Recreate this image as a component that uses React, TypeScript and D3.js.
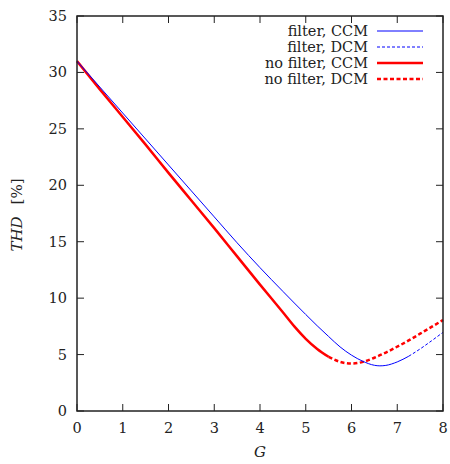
import React from 'react';
import * as d3 from 'd3';

// G values and THD [%]
const gFilter = [0, 0.5, 1, 1.5, 2, 2.5, 3, 3.5, 4, 4.5, 5, 5.25, 5.5, 5.75, 6, 6.25, 6.5, 6.62, 6.75, 7, 7.25, 7.5, 7.75, 8];
const thdFilter = [31, 28.7, 26.4, 24.1, 21.8, 19.5, 17.2, 14.9, 12.7, 10.6, 8.55, 7.55, 6.6, 5.68, 4.95, 4.4, 4.05, 4.0, 4.04, 4.35, 4.85, 5.5, 6.22, 6.97];
const filterDcmFrom = 7.25;

const gNoFilter = [0, 0.5, 1, 1.5, 2, 2.5, 3, 3.5, 4, 4.5, 4.75, 5, 5.25, 5.5, 5.75, 6, 6.25, 6.5, 6.75, 7, 7.25, 7.5, 7.75, 8];
const thdNoFilter = [31, 28.5, 26.05, 23.6, 21.1, 18.65, 16.2, 13.7, 11.2, 8.75, 7.5, 6.4, 5.5, 4.8, 4.35, 4.2, 4.35, 4.72, 5.18, 5.7, 6.25, 6.85, 7.45, 8.06];
const noFilterDcmFrom = 5.5;

const xTicks = [0, 1, 2, 3, 4, 5, 6, 7, 8];
const yTicks = [0, 5, 10, 15, 20, 25, 30, 35];

const legendItems = [
  { label: 'filter, CCM', color: '#0000ff', width: 1, dash: '' },
  { label: 'filter, DCM', color: '#0000ff', width: 1, dash: '3,2' },
  { label: 'no filter, CCM', color: '#ff0000', width: 2.5, dash: '' },
  { label: 'no filter, DCM', color: '#ff0000', width: 2.5, dash: '4,2.5' },
];

const font = "'DejaVu Serif', 'Liberation Serif', serif";

export default function App() {
  const left = 77, right = 443, top = 16, bottom = 411;
  const x = d3.scaleLinear().domain([0, 8]).range([left, right]);
  const y = d3.scaleLinear().domain([0, 35]).range([bottom, top]);

  const line = d3.line<[number, number]>()
    .x(d => x(d[0]))
    .y(d => y(d[1]))
    .curve(d3.curveMonotoneX);

  const filterPts: [number, number][] = gFilter.map((g, i) => [g, thdFilter[i]]);
  const noFilterPts: [number, number][] = gNoFilter.map((g, i) => [g, thdNoFilter[i]]);

  const filterCcm = filterPts.filter(d => d[0] <= filterDcmFrom);
  const filterDcm = filterPts.filter(d => d[0] >= filterDcmFrom);
  const noFilterCcm = noFilterPts.filter(d => d[0] <= noFilterDcmFrom);
  const noFilterDcm = noFilterPts.filter(d => d[0] >= noFilterDcmFrom);

  const tickLen = 7;
  const txt = { fontFamily: font, fill: '#222' };

  return (
    <svg width={450} height={464} style={{ position: 'absolute', left: 0, top: 0 }}>
      <rect width={450} height={464} fill="#fff" />

      {/* ticks, mirrored on all four sides */}
      {xTicks.map(t => (
        <g key={'x' + t}>
          <line x1={x(t)} x2={x(t)} y1={bottom} y2={bottom - tickLen} stroke="#222" strokeWidth={1} />
          <line x1={x(t)} x2={x(t)} y1={top} y2={top + tickLen} stroke="#222" strokeWidth={1} />
          <text x={x(t)} y={bottom + 22} textAnchor="middle" fontSize={14.5} style={txt}>{t}</text>
        </g>
      ))}
      {yTicks.map(t => (
        <g key={'y' + t}>
          <line x1={left} x2={left + tickLen} y1={y(t)} y2={y(t)} stroke="#222" strokeWidth={1} />
          <line x1={right} x2={right - tickLen} y1={y(t)} y2={y(t)} stroke="#222" strokeWidth={1} />
          <text x={67} y={y(t) + 5} textAnchor="end" fontSize={14.5} style={txt}>{t}</text>
        </g>
      ))}

      {/* curves */}
      <path d={line(noFilterCcm) || ''} fill="none" stroke="#ff0000" strokeWidth={2.5} />
      <path d={line(noFilterDcm) || ''} fill="none" stroke="#ff0000" strokeWidth={2.5} strokeDasharray="4,2.5" />
      <path d={line(filterCcm) || ''} fill="none" stroke="#0000ff" strokeWidth={1} />
      <path d={line(filterDcm) || ''} fill="none" stroke="#0000ff" strokeWidth={1} strokeDasharray="3,2" />

      {/* frame */}
      <rect x={left} y={top} width={right - left} height={bottom - top} fill="none" stroke="#222" strokeWidth={1.5} />

      {/* legend */}
      {legendItems.map((item, i) => {
        const cy = 31 + i * 16;
        return (
          <g key={item.label}>
            <text x={368} y={cy + 5} textAnchor="end" fontSize={14.5} style={txt}>{item.label}</text>
            <line x1={377} x2={423} y1={cy} y2={cy} stroke={item.color}
              strokeWidth={item.width} strokeDasharray={item.dash || undefined} />
          </g>
        );
      })}

      {/* axis labels */}
      <text x={260} y={457} textAnchor="middle" fontSize={15} fontStyle="italic" style={txt}>G</text>
      <text transform="translate(22,215) rotate(-90)" textAnchor="middle" fontSize={15} style={txt}>
        <tspan fontStyle="italic">THD</tspan>
        <tspan dx={12}>[%]</tspan>
      </text>
    </svg>
  );
}
